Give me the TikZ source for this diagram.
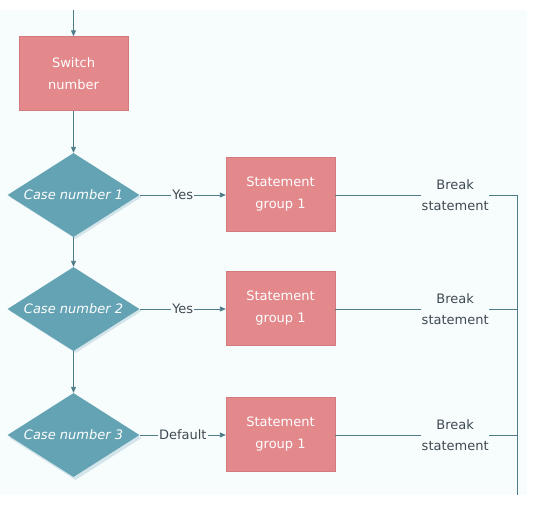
\documentclass[tikz,border=0pt]{standalone}
\usepackage{fontspec}
\setmainfont{DejaVu Sans}
\usetikzlibrary{shapes.geometric,arrows.meta}
\definecolor{bgc}{HTML}{F7FCFD}
\definecolor{boxfill}{HTML}{E3888B}
\definecolor{boxline}{HTML}{D27A7E}
\definecolor{diafill}{HTML}{64A3B3}
\definecolor{diashadow}{HTML}{D3E4EA}
\definecolor{linec}{HTML}{4E7C89}
\definecolor{txtc}{HTML}{3E4A52}
\tikzset{
  pinkbox/.style={draw=boxline, fill=boxfill, minimum width=109pt, minimum height=74pt, inner sep=0pt, text=white, align=center, font=\fontsize{13}{22}\selectfont},
  casedia/.style={diamond, fill=diafill, minimum width=132pt, minimum height=84pt, inner sep=0pt, aspect=1.57, text=white, font=\fontsize{13}{15}\selectfont\itshape},
  shadowdia/.style={diamond, fill=diashadow, minimum width=132pt, minimum height=84pt, inner sep=0pt, aspect=1.57},
  conn/.style={draw=linec, line width=0.9pt},
  arr/.style={conn, -{Triangle[length=6pt,width=5pt]}},
  lbl/.style={fill=bgc, text=txtc, inner sep=1pt, font=\fontsize{13}{15}\selectfont},
  brk/.style={fill=bgc, text=txtc, inner sep=0.5pt, align=center, font=\fontsize{13}{21}\selectfont}
}
\begin{document}
\begin{tikzpicture}[x=1pt,y=-1pt]
\useasboundingbox (0,0) rectangle (534,512);
\fill[bgc] (0,10) rectangle (527,495);
% start
\coordinate (start) at (73.5,10);
\node[pinkbox] (sw) at (73.5,73.5) {Switch\\number};
% diamonds shadows
\node[shadowdia] at (75.5,197) {};
\node[shadowdia] at (75.5,311) {};
\node[shadowdia] at (75.5,438) {};
\node[casedia] (c1) at (73.5,195) {Case number 1};
\node[casedia] (c2) at (73.5,309) {Case number 2};
\node[casedia] (c3) at (73.5,435) {Case number 3};
% statement boxes
\node[pinkbox] (s1) at (280.5,194) {Statement\\group 1};
\node[pinkbox] (s2) at (280.5,308.5) {Statement\\group 1};
\node[pinkbox] (s3) at (280.5,434.5) {Statement\\group 1};
% right bus
\coordinate (r1) at (517,195);
\coordinate (r2) at (517,309);
\coordinate (r3) at (517,435);
\coordinate (rend) at (517,495);
% vertical flow
\draw[arr] (start) -- (sw.north);
\draw[arr] (sw.south) -- (c1.north);
\draw[arr] (c1.south) -- (c2.north);
\draw[arr] (c2.south) -- (c3.north);
% yes / default
\draw[arr] (c1.east) -- node[lbl] {Yes} (c1.east -| s1.west);
\draw[arr] (c2.east) -- node[lbl] {Yes} (c2.east -| s2.west);
\draw[arr] (c3.east) -- node[lbl] {Default} (c3.east -| s3.west);
% break statements
\draw[conn] (s1.east |- r1) -- node[brk, pos=0.66] {Break\\statement} (r1);
\draw[conn] (s2.east |- r2) -- node[brk, pos=0.66] {Break\\statement} (r2);
\draw[conn] (s3.east |- r3) -- node[brk, pos=0.66] {Break\\statement} (r3);
\draw[conn] (517,194.55) -- (rend);
\end{tikzpicture}
\end{document}
